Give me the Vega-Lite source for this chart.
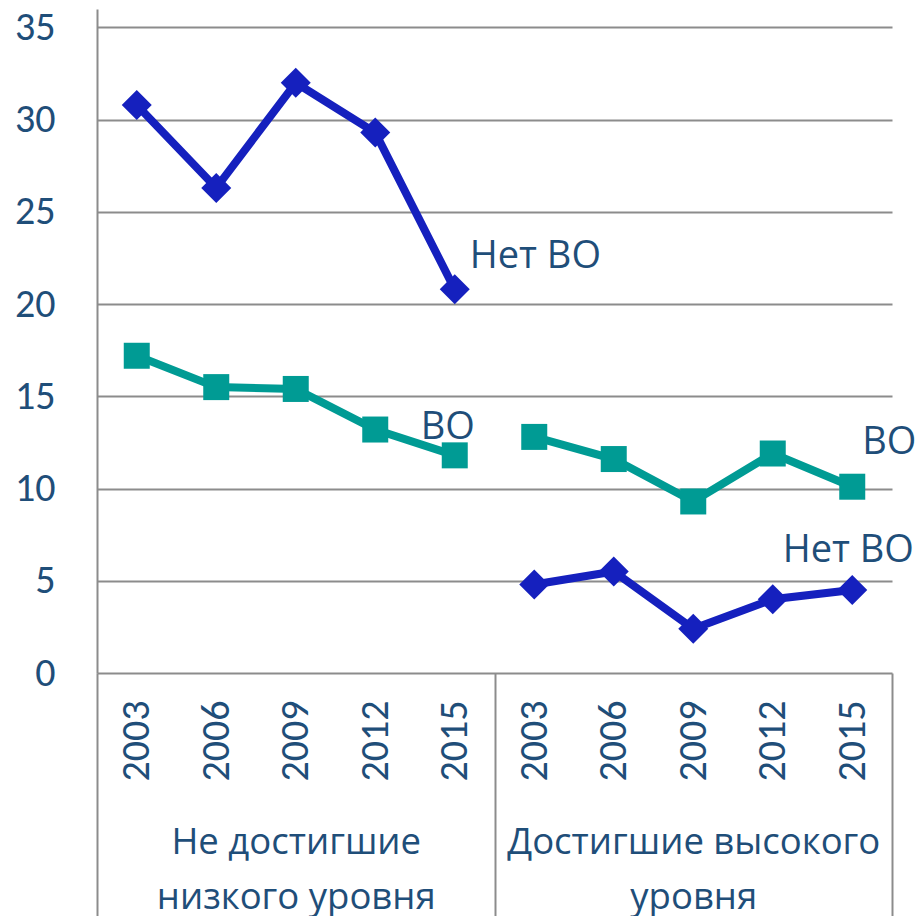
{
  "$schema": "https://vega.github.io/schema/vega-lite/v6.json",
  "width": 795,
  "height": 664,
  "autosize": {"type": "none"},
  "padding": {"left": 97, "top": 9, "right": 27, "bottom": 243},
  "config": {"view": {"stroke": null}, "font": "Carlito, Open Sans, sans-serif"},
  "data": {
    "values": [
      {"group": "Не достигшие низкого уровня", "key": "a2003", "series": "Нет ВО", "value": 30.8},
      {"group": "Не достигшие низкого уровня", "key": "a2006", "series": "Нет ВО", "value": 26.3},
      {"group": "Не достигшие низкого уровня", "key": "a2009", "series": "Нет ВО", "value": 32.0},
      {"group": "Не достигшие низкого уровня", "key": "a2012", "series": "Нет ВО", "value": 29.3},
      {"group": "Не достигшие низкого уровня", "key": "a2015", "series": "Нет ВО", "value": 20.8},
      {"group": "Не достигшие низкого уровня", "key": "a2003", "series": "ВО", "value": 17.2},
      {"group": "Не достигшие низкого уровня", "key": "a2006", "series": "ВО", "value": 15.5},
      {"group": "Не достигшие низкого уровня", "key": "a2009", "series": "ВО", "value": 15.4},
      {"group": "Не достигшие низкого уровня", "key": "a2012", "series": "ВО", "value": 13.2},
      {"group": "Не достигшие низкого уровня", "key": "a2015", "series": "ВО", "value": 11.8},
      {"group": "Достигшие высокого уровня", "key": "b2003", "series": "ВО", "value": 12.8},
      {"group": "Достигшие высокого уровня", "key": "b2006", "series": "ВО", "value": 11.6},
      {"group": "Достигшие высокого уровня", "key": "b2009", "series": "ВО", "value": 9.3},
      {"group": "Достигшие высокого уровня", "key": "b2012", "series": "ВО", "value": 11.9},
      {"group": "Достигшие высокого уровня", "key": "b2015", "series": "ВО", "value": 10.1},
      {"group": "Достигшие высокого уровня", "key": "b2003", "series": "Нет ВО", "value": 4.8},
      {"group": "Достигшие высокого уровня", "key": "b2006", "series": "Нет ВО", "value": 5.5},
      {"group": "Достигшие высокого уровня", "key": "b2009", "series": "Нет ВО", "value": 2.4},
      {"group": "Достигшие высокого уровня", "key": "b2012", "series": "Нет ВО", "value": 4.0},
      {"group": "Достигшие высокого уровня", "key": "b2015", "series": "Нет ВО", "value": 4.5}
    ]
  },
  "layer": [
    {
      "encoding": {
        "x": {
          "field": "key",
          "type": "nominal",
          "sort": null,
          "scale": {"type": "point", "padding": 0.5},
          "axis": {
            "title": null,
            "ticks": false,
            "domain": false,
            "grid": false,
            "labelAngle": -90,
            "labelFontSize": 40,
            "labelColor": "#1F4E79",
            "labelPadding": 27,
            "labelExpr": "slice(datum.label, 1)"
          }
        },
        "y": {
          "field": "value",
          "type": "quantitative",
          "scale": {"domain": [0, 36], "nice": false, "zero": true},
          "axis": {
            "title": null,
            "values": [0, 5, 10, 15, 20, 25, 30, 35],
            "grid": true,
            "gridColor": "#8C8C8C",
            "gridWidth": 2,
            "domain": true,
            "domainColor": "#8C8C8C",
            "domainWidth": 2,
            "ticks": false,
            "labelFontSize": 40,
            "labelColor": "#1F4E79",
            "labelPadding": 42
          }
        }
      },
      "layer": [
        {
          "mark": {"type": "line", "strokeWidth": 8},
          "encoding": {
            "color": {"field": "series", "type": "nominal", "scale": {"domain": ["Нет ВО", "ВО"], "range": ["#1520BE", "#009B94"]}, "legend": null},
            "detail": {"field": "group"}
          }
        },
        {
          "mark": {"type": "point", "filled": true, "opacity": 1},
          "encoding": {
            "color": {"field": "series", "type": "nominal", "scale": {"domain": ["Нет ВО", "ВО"], "range": ["#1520BE", "#009B94"]}, "legend": null},
            "shape": {"field": "series", "type": "nominal", "scale": {"domain": ["Нет ВО", "ВО"], "range": ["diamond", "square"]}, "legend": null},
            "size": {"field": "series", "type": "nominal", "scale": {"domain": ["Нет ВО", "ВО"], "range": [900, 676]}, "legend": null}
          }
        },
        {
          "transform": [{"filter": "datum.key == 'a2015' && datum.series == 'Нет ВО'"}],
          "mark": {"type": "text", "align": "left", "baseline": "alphabetic", "dx": 15, "dy": -21, "font": "Open Sans", "fontSize": 38, "color": "#1F4E79"},
          "encoding": {"text": {"field": "series"}}
        },
        {
          "transform": [{"filter": "datum.key == 'a2015' && datum.series == 'ВО'"}],
          "mark": {"type": "text", "align": "center", "baseline": "alphabetic", "dx": -7, "dy": -16, "font": "Open Sans", "fontSize": 38, "color": "#1F4E79"},
          "encoding": {"text": {"field": "series"}}
        },
        {
          "transform": [{"filter": "datum.key == 'b2015' && datum.series == 'ВО'"}],
          "mark": {"type": "text", "align": "left", "baseline": "alphabetic", "dx": 10, "dy": -33, "font": "Open Sans", "fontSize": 38, "color": "#1F4E79"},
          "encoding": {"text": {"field": "series"}}
        },
        {
          "transform": [{"filter": "datum.key == 'b2015' && datum.series == 'Нет ВО'"}],
          "mark": {"type": "text", "align": "center", "baseline": "alphabetic", "dx": -4, "dy": -28, "font": "Open Sans", "fontSize": 38, "color": "#1F4E79"},
          "encoding": {"text": {"field": "series"}}
        }
      ]
    },
    {
      "mark": {"type": "point", "opacity": 0},
      "encoding": {
        "x": {
          "field": "group",
          "type": "nominal",
          "sort": ["Не достигшие низкого уровня", "Достигшие высокого уровня"],
          "scale": {"type": "band", "paddingInner": 0, "paddingOuter": 0},
          "axis": {
            "orient": "bottom",
            "title": null,
            "grid": false,
            "domain": false,
            "ticks": true,
            "tickBand": "extent",
            "tickSize": 243,
            "tickColor": "#8C8C8C",
            "tickWidth": 2,
            "labelAngle": 0,
            "labelFont": "Open Sans",
            "labelFontSize": 36.5,
            "labelColor": "#1F4E79",
            "labelLineHeight": 55,
            "labelPadding": -92,
            "labelLimit": 0,
            "labelOverlap": false,
            "labelFlush": false,
            "labelBound": false,
            "labelExpr": "datum.label == 'Не достигшие низкого уровня' ? ['Не достигшие', 'низкого уровня'] : (datum.label == 'Достигшие высокого уровня' ? ['Достигшие высокого', 'уровня'] : '')"
          }
        }
      }
    }
  ],
  "resolve": {"scale": {"x": "independent"}}
}
